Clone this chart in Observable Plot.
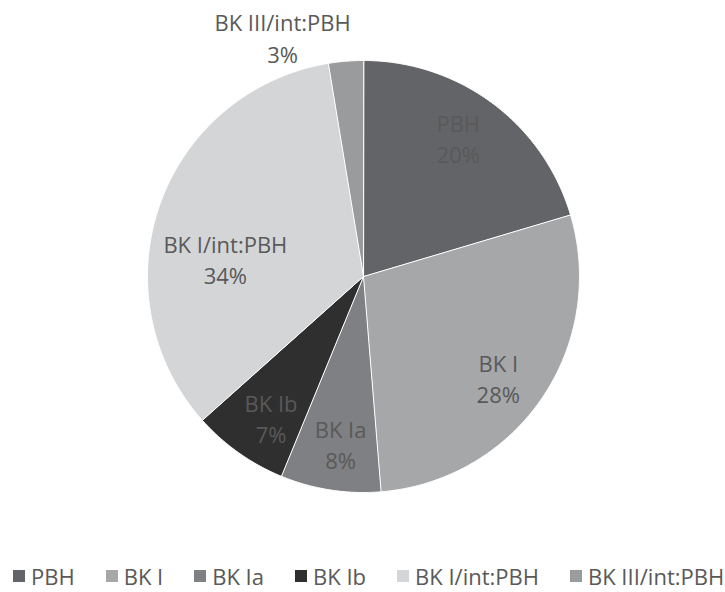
<!DOCTYPE html>
<html>
<head>
<meta charset="utf-8">
<script src="https://cdn.jsdelivr.net/npm/d3@7"></script>
<script src="https://cdn.jsdelivr.net/npm/@observablehq/plot@0.6"></script>
<style>
  html, body { margin: 0; padding: 0; background: #fff; }
  body { width: 725px; height: 592px; overflow: hidden; font-family: "Open Sans", sans-serif; }
  #chart svg { display: block; overflow: visible; }
  #legend { display: flex; align-items: center; padding-left: 13px; padding-top: 19px; height: 24px;
            font-size: 22px; line-height: 24px; color: #595959; white-space: nowrap; }
  #legend .item { display: flex; align-items: center; margin-right: 31px; }
  #legend .sw { width: 12px; height: 12px; margin-right: 6px; }
</style>
</head>
<body>
<div id="chart"></div>
<div id="legend"></div>
<script>
// ---- data ----
const categories = ["PBH", "BK I", "BK Ia", "BK Ib", "BK I/int:PBH", "BK III/int:PBH"];
const shares = [20.4, 28.3, 7.5, 7.2, 34.0, 2.6];
const colors = ["#636467", "#a6a7a9", "#7f8083", "#2f2f30", "#d4d5d7", "#9a9b9d"];

// ---- label placement (style) ----
const labelRadius = {"BK I/int:PBH": 0.645, "BK III/int:PBH": 1.17};
const labelTurn = {"BK I/int:PBH": -12, "BK III/int:PBH": -14, "PBH": -2.5, "BK I": 2.5, "BK Ia": -1, "BK Ib": -2};
const defaultRadius = 0.78;

const total = d3.sum(shares);
const arcs = d3.pie().sort(null).value(d => d)(shares);

function slicePolygon(a0, a1) {
  const pts = [[0, 0]];
  const n = Math.max(2, Math.ceil((a1 - a0) / 0.01));
  for (let i = 0; i <= n; i++) {
    const a = a0 + (a1 - a0) * i / n;
    pts.push([Math.sin(a), Math.cos(a)]);
  }
  pts.push([0, 0]);
  return pts;
}

const slices = {
  type: "FeatureCollection",
  features: arcs.map((a, i) => ({
    type: "Feature",
    properties: {name: categories[i]},
    geometry: {type: "Polygon", coordinates: [slicePolygon(a.startAngle, a.endAngle)]}
  }))
};

const circle = {type: "Polygon", coordinates: [slicePolygon(0, 2 * Math.PI)]};

const labels = arcs.map((a, i) => {
  const name = categories[i];
  const mid = (a.startAngle + a.endAngle) / 2 + (labelTurn[name] || 0) * Math.PI / 180;
  const r = labelRadius[name] ?? defaultRadius;
  return {
    name,
    x: r * Math.sin(mid),
    y: r * Math.cos(mid),
    text: name + "\n" + Math.round(shares[i] / total * 100) + "%"
  };
});

const W = 725, H = 545, R = 216, CX = 363, CY = 276;

const chart = Plot.plot({
  width: W,
  height: H,
  marginLeft: CX - R,
  marginRight: W - CX - R,
  marginTop: CY - R,
  marginBottom: H - CY - R,
  projection: {type: "reflect-y", domain: circle, clip: false},
  color: {domain: categories, range: colors},
  style: {fontFamily: "Open Sans", background: "#fff", overflow: "visible"},
  marks: [
    Plot.geo(slices, {fill: d => d.properties.name, stroke: "#fff", strokeWidth: 1}),
    Plot.text(labels, {x: "x", y: "y", text: "text", fill: "#595959", fontSize: 22, lineHeight: 1.42, textAnchor: "middle", clip: false})
  ]
});
document.getElementById("chart").appendChild(chart);

const legend = document.getElementById("legend");
categories.forEach((c, i) => {
  const item = document.createElement("div");
  item.className = "item";
  const sw = document.createElement("span");
  sw.className = "sw";
  sw.style.background = colors[i];
  const t = document.createElement("span");
  t.textContent = c;
  item.appendChild(sw);
  item.appendChild(t);
  legend.appendChild(item);
});
</script>
</body>
</html>
